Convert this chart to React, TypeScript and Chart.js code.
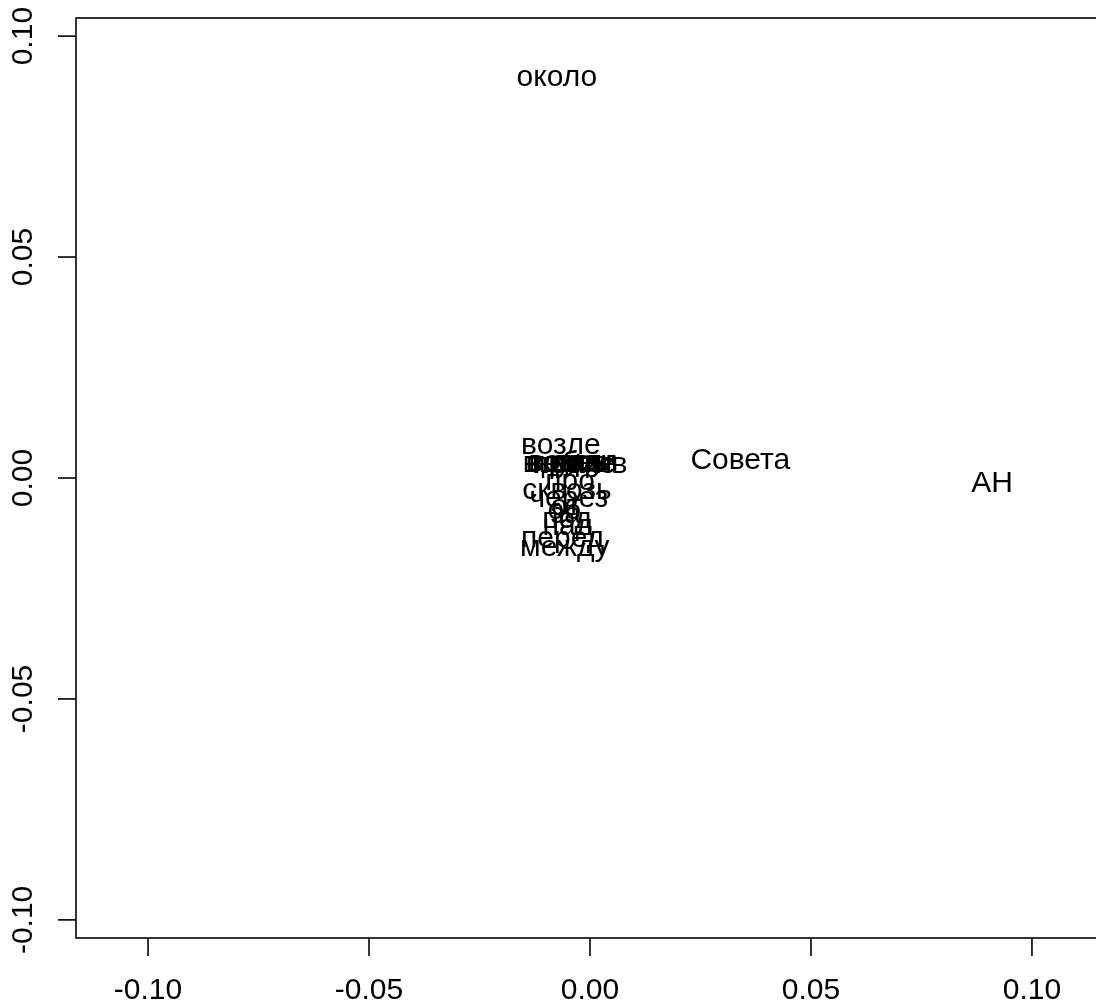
import React, { useEffect, useRef } from "react";
import { Chart, registerables } from "chart.js";

Chart.register(...registerables);

const words = [
  "около", "Совета", "АН", "возле",
  "вдоль", "вокруг", "внутри", "после", "для", "без", "из", "у", "по", "к", "против",
  "про", "сквозь", "через", "от", "об", "за", "под", "над", "перед", "между",
];
const xs = [
  -0.0075, 0.0340, 0.0910, -0.0066,
  -0.0052, -0.0040, -0.0045, -0.0035, -0.0030, -0.0012, -0.0020, -0.0040, -0.0050, -0.0030, -0.0023,
  -0.0045, -0.0052, -0.0048, -0.0055, -0.0058, -0.0055, -0.0052, -0.0050, -0.0062, -0.0057,
];
const ys = [
  0.0905, 0.0038, -0.0014, 0.0072,
  0.0032, 0.0034, 0.0033, 0.0030, 0.0035, 0.0033, 0.0034, 0.0036, 0.0032, 0.0031, 0.0030,
  -0.0009, -0.0029, -0.0048, -0.0066, -0.0074, -0.0082, -0.0095, -0.0111, -0.0138, -0.0158,
];
const xTickValues = [-0.1, -0.05, 0, 0.05, 0.1];
const xTickLabels = ["-0.10", "-0.05", "0.00", "0.05", "0.10"];
const yTickValues = [-0.1, -0.05, 0, 0.05, 0.1];
const yTickLabels = ["-0.10", "-0.05", "0.00", "0.05", "0.10"];

const FONT = '30px "Liberation Sans", Arial, sans-serif';

const rPlot = {
  id: "rPlot",
  afterDraw(chart: any) {
    const ctx = chart.ctx;
    const area = chart.chartArea;
    const xs_ = chart.scales.x;
    const ys_ = chart.scales.y;
    ctx.save();
    ctx.strokeStyle = "#000";
    ctx.lineWidth = 1.6;
    ctx.strokeRect(area.left, area.top, area.right - area.left, area.bottom - area.top);
    ctx.fillStyle = "#000";
    ctx.font = FONT;
    xTickValues.forEach((v, i) => {
      const px = xs_.getPixelForValue(v);
      ctx.beginPath();
      ctx.moveTo(px, area.bottom);
      ctx.lineTo(px, area.bottom + 18);
      ctx.stroke();
      ctx.textAlign = "center";
      ctx.textBaseline = "middle";
      ctx.fillText(xTickLabels[i], px, area.bottom + 53);
    });
    yTickValues.forEach((v, i) => {
      const py = ys_.getPixelForValue(v);
      ctx.beginPath();
      ctx.moveTo(area.left, py);
      ctx.lineTo(area.left - 18, py);
      ctx.stroke();
      ctx.save();
      ctx.translate(area.left - 52, py);
      ctx.rotate(-Math.PI / 2);
      ctx.textAlign = "center";
      ctx.textBaseline = "middle";
      ctx.fillText(yTickLabels[i], 0, 0);
      ctx.restore();
    });
    const meta = chart.getDatasetMeta(0);
    ctx.textAlign = "center";
    ctx.textBaseline = "middle";
    meta.data.forEach((el: any, i: number) => {
      ctx.fillText(words[i], el.x, el.y);
    });
    ctx.restore();
  },
};

export default function App() {
  const ref = useRef<HTMLCanvasElement>(null);
  useEffect(() => {
    if (!ref.current) return;
    const chart = new Chart(ref.current, {
      type: "scatter",
      data: {
        datasets: [
          {
            data: xs.map((x, i) => ({ x, y: ys[i] })),
            pointRadius: 0,
            pointHoverRadius: 0,
          },
        ],
      },
      options: {
        animation: false,
        responsive: false,
        maintainAspectRatio: false,
        devicePixelRatio: 1,
        layout: { padding: { left: 76, top: 18, bottom: 70, right: 36 } },
        plugins: { legend: { display: false }, tooltip: { enabled: false } },
        events: [],
        scales: {
          x: { type: "linear", min: -0.1163, max: 0.1163, display: false },
          y: { type: "linear", min: -0.1041, max: 0.1041, display: false },
        },
      },
      plugins: [rPlot],
    });
    return () => chart.destroy();
  }, []);
  return (
    <div style={{ position: "fixed", left: 0, top: 0, width: 1096, height: 1008, overflow: "hidden", background: "#fff" }}>
      <canvas ref={ref} width={1140} height={1008} style={{ display: "block", width: 1140, height: 1008 }} />
    </div>
  );
}
